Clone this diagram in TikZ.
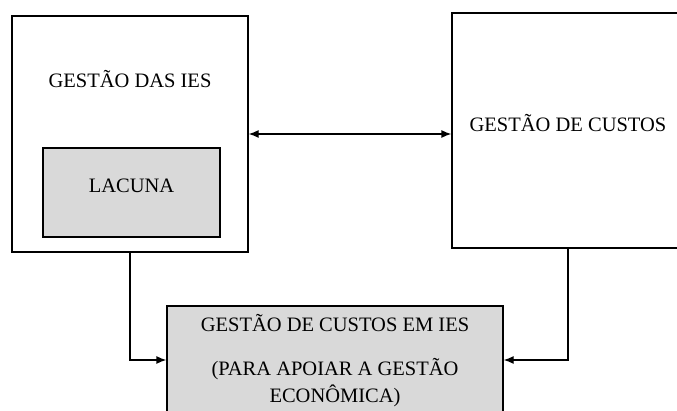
\documentclass[tikz,border=0pt]{standalone}
\usepackage{fontspec}
\setmainfont{Liberation Serif}
\usetikzlibrary{positioning, calc, arrows.meta}
\colorlet{lacuna gray}{black!15}
\tikzset{box/.style={draw, line width=1.3pt, inner sep=0pt}}
\tikzset{link/.style={line width=1.3pt, ->}}

\begin{document}
\begin{tikzpicture}[x=1pt, y=-1pt, >={Latex[length=10pt,width=8pt]}, font=\fontsize{20.5}{27}\selectfont]
                \useasboundingbox (0,0) rectangle (677,411);
                \node[box, minimum width=236pt, minimum height=236pt] (ies) at (130,134) {};
                \node (ies label) at ([yshift=-64pt]ies.north) {GESTÃO DAS IES};
                \node[box, fill=lacuna gray, minimum width=177pt, minimum height=89pt] (lacuna) at (131.5,192.5) {};
                \node (lacuna label) at ([yshift=7pt]lacuna.center) {LACUNA};
                \node[box, minimum width=232pt, minimum height=235pt] (custos) at (568,130.5) {};
                \node (custos label) at ([yshift=7pt]custos.center) {GESTÃO DE CUSTOS};
                \node[box, fill=lacuna gray, minimum width=336pt, minimum height=108pt] (ies custos) at (335,360) {};
                \node[align=center, anchor=north, inner sep=0pt] (ies custos label) at ([yshift=-9pt]ies custos.north) {GESTÃO DE CUSTOS EM IES\\[17pt](PARA APOIAR A GESTÃO\\ECONÔMICA)};
                \draw[link, <->] (ies.east) -- (ies.east -| custos.west);
                \draw[link] (ies.south) |- (ies custos.west);
                \draw[link] (custos.south) |- (ies custos.east);
            \end{tikzpicture}
\end{document}
